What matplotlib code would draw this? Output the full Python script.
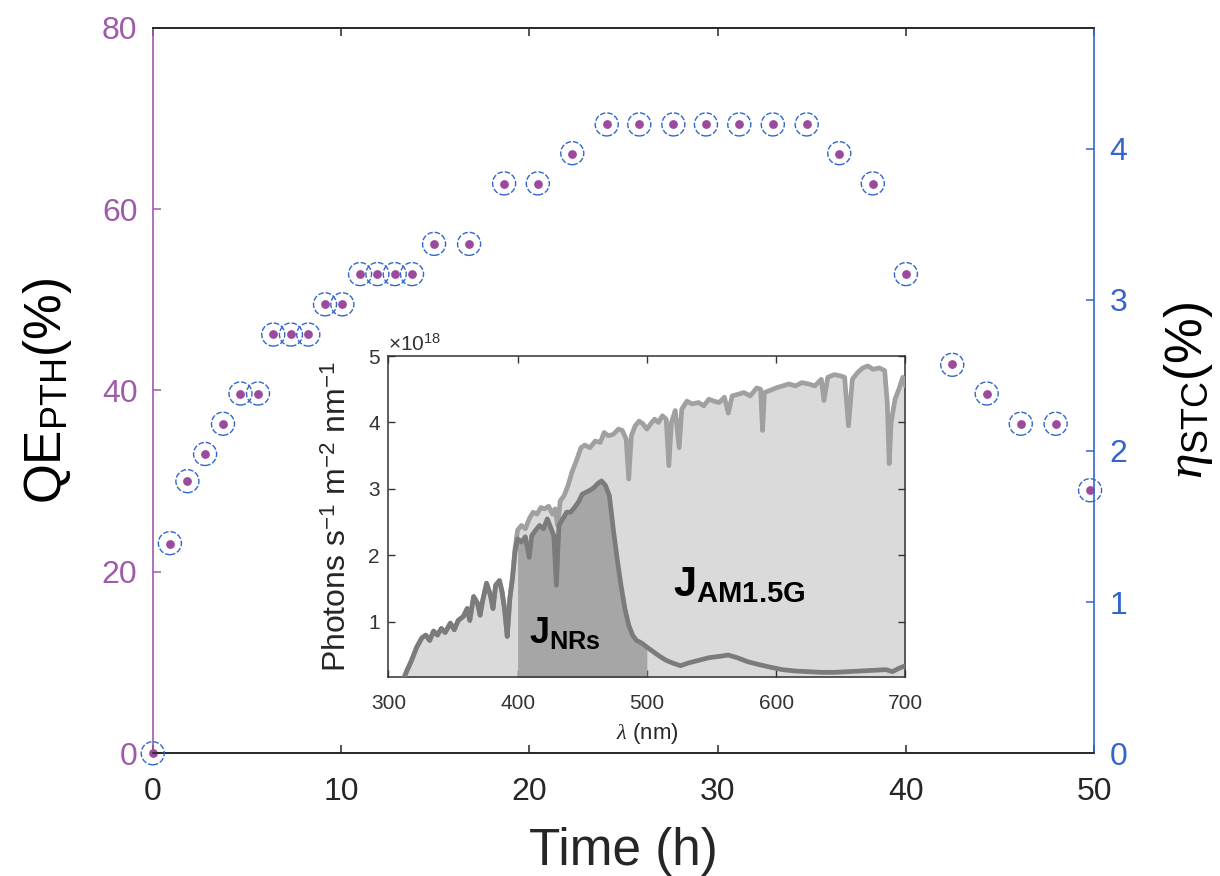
import matplotlib
matplotlib.use("Agg")
import matplotlib.pyplot as plt
import numpy as np

plt.rcParams['font.family'] = ['Liberation Sans', 'DejaVu Sans']
plt.rcParams['mathtext.fontset'] = 'custom'
plt.rcParams['mathtext.rm'] = 'Liberation Sans'
plt.rcParams['mathtext.it'] = 'Liberation Serif:italic'
plt.rcParams['mathtext.bf'] = 'Liberation Sans:bold'

# main data: time (h), QE_PTH (%) and eta_STC (%)
time_h = [0, 0.91, 1.84, 2.78, 3.73, 4.66, 5.59, 6.40, 7.34, 8.26, 9.15, 10.07,
          11.01, 11.93, 12.85, 13.77, 14.94, 16.80, 18.66, 20.45, 22.28, 24.11,
          25.84, 27.65, 29.38, 31.15, 32.93, 34.73, 36.46, 38.24, 40.0, 42.46,
          44.29, 46.1, 47.95, 49.78]
qe_pth = [0, 23.1, 30.0, 33.0, 36.3, 39.6, 39.6, 46.2, 46.2, 46.2, 49.5, 49.5,
          52.8, 52.8, 52.8, 52.8, 56.1, 56.1, 62.8, 62.8, 66.1, 69.4,
          69.4, 69.4, 69.4, 69.4, 69.4, 69.4, 66.1, 62.8, 52.8, 42.9,
          39.6, 36.3, 36.3, 29.0]
eta_stc = [0, 1.39, 1.80, 1.98, 2.18, 2.38, 2.38, 2.77, 2.77, 2.77, 2.97, 2.97,
           3.17, 3.17, 3.17, 3.17, 3.37, 3.37, 3.77, 3.77, 3.97, 4.16,
           4.16, 4.16, 4.16, 4.16, 4.16, 4.16, 3.97, 3.77, 3.17, 2.57,
           2.38, 2.18, 2.18, 1.74]

# inset: AM1.5G photon flux (x1e18 photons s-1 m-2 nm-1)
wl_am = [310, 314, 318, 322, 326, 329, 332, 335, 338, 341, 344, 348, 351, 354,
         358, 361, 363, 366, 369, 371, 373, 376, 379, 381, 383, 386, 388, 390,
         392, 394, 396, 398, 400, 403, 406, 409, 412, 415, 418, 421, 424, 427,
         429, 431, 433, 436, 439, 442, 446, 449, 452, 456, 460, 464, 467, 470,
         474, 478, 481, 484, 486, 488, 491, 494, 497, 500, 503, 506, 509, 512,
         515, 517, 519, 522, 525, 527, 531, 535, 540, 544, 548, 552, 556, 560,
         563, 566, 570, 575, 580, 585, 588, 589.5, 591, 595, 600, 605, 610, 615,
         620, 625, 630, 635, 637, 640, 645, 650, 653, 656, 659, 663, 667, 671,
         675, 680, 684, 686, 687.5, 689, 692, 695, 698, 700]
flux_am = [0.05, 0.25, 0.42, 0.62, 0.76, 0.80, 0.72, 0.86, 0.80, 0.90, 0.84, 0.98,
           0.88, 1.02, 1.08, 1.20, 1.02, 1.38, 1.28, 1.10, 1.32, 1.58, 1.40, 1.20,
           1.55, 1.62, 1.45, 1.18, 0.78, 1.35, 1.65, 2.10, 2.38, 2.45, 2.40, 2.55,
           2.65, 2.62, 2.72, 2.70, 2.74, 2.62, 2.70, 2.45, 2.82, 2.90, 3.05, 3.25,
           3.45, 3.62, 3.66, 3.62, 3.72, 3.70, 3.85, 3.80, 3.82, 3.90, 3.88, 3.75,
           3.15, 3.80, 3.95, 4.02, 3.98, 3.90, 3.98, 4.05, 4.00, 4.10, 4.05, 3.35,
           4.00, 4.18, 3.62, 4.20, 4.32, 4.28, 4.30, 4.25, 4.35, 4.32, 4.30, 4.38,
           4.14, 4.40, 4.42, 4.45, 4.40, 4.52, 4.50, 3.88, 4.45, 4.48, 4.52, 4.55,
           4.58, 4.55, 4.60, 4.58, 4.55, 4.65, 4.33, 4.68, 4.72, 4.70, 4.68, 3.95,
           4.65, 4.75, 4.82, 4.85, 4.80, 4.82, 4.78, 4.30, 3.38, 4.00, 4.35, 4.50,
           4.68, 4.56]

# inset: photon flux absorbed by the NRs (x1e18)
wl_nr = [310, 314, 318, 322, 326, 329, 332, 335, 338, 341, 344, 348, 351, 354,
         358, 361, 363, 366, 369, 371, 373, 376, 379, 381, 383, 386, 388, 390,
         392, 394, 396, 398, 400, 403, 406, 409, 411, 414, 417, 420, 423, 426,
         428, 430, 432, 435, 438, 441, 444, 447, 450, 453, 456, 459, 462, 465,
         468, 471, 474, 477, 480, 483, 486, 489, 492, 496, 500, 505, 510, 515,
         520, 526, 532, 540, 548, 556, 563, 570, 578, 586, 595, 605, 615, 625,
         635, 645, 655, 665, 675, 685, 690, 695, 700]
flux_nr = [0.05, 0.25, 0.42, 0.62, 0.76, 0.80, 0.72, 0.86, 0.80, 0.90, 0.84, 0.98,
           0.88, 1.02, 1.08, 1.20, 1.02, 1.38, 1.28, 1.10, 1.32, 1.58, 1.40, 1.20,
           1.55, 1.62, 1.45, 1.18, 0.78, 1.35, 1.65, 2.05, 2.25, 2.20, 2.28, 1.97,
           2.30, 2.38, 2.45, 2.40, 2.55, 2.40, 2.30, 1.55, 2.45, 2.55, 2.65, 2.65,
           2.72, 2.80, 2.92, 2.95, 2.98, 3.02, 3.08, 3.12, 3.05, 2.90, 2.40, 1.95,
           1.55, 1.20, 0.95, 0.80, 0.72, 0.68, 0.62, 0.55, 0.48, 0.42, 0.38, 0.34,
           0.38, 0.42, 0.46, 0.48, 0.50, 0.46, 0.40, 0.36, 0.32, 0.28, 0.26, 0.25,
           0.24, 0.24, 0.25, 0.26, 0.27, 0.28, 0.25, 0.30, 0.34]

purple = '#a05aab'
dot_purple = '#9c4a9c'
blue = '#3366cc'
dark = '#262626'

fig = plt.figure(figsize=(12.2, 8.76), dpi=100)
ax = fig.add_axes([0.1252, 0.1401, 0.7717, 0.8283])
ax2 = ax.twinx()

ax.scatter(time_h, qe_pth, s=28, color=dot_purple, zorder=3, clip_on=False)
ax2.scatter(time_h, eta_stc, s=275, facecolors='none', edgecolors=blue,
            linewidths=1.0, linestyles=(0, (4, 1.4)), zorder=4, clip_on=False)

ax.set_xlim(0, 50)
ax.set_ylim(0, 80)
ax2.set_ylim(0, 4.8)
ax.set_xticks([0, 10, 20, 30, 40, 50])
ax.set_yticks([0, 20, 40, 60, 80])
ax2.set_yticks([0, 1, 2, 3, 4])

ax.spines['right'].set_visible(False)
ax2.spines['left'].set_visible(False)
ax.spines['left'].set_color(purple)
ax2.spines['right'].set_color(blue)
for a in (ax, ax2):
    for s in ('top', 'bottom'):
        a.spines[s].set_color(dark)
    for s in a.spines.values():
        s.set_linewidth(1.2)

ax.tick_params(axis='x', direction='in', top=True, length=6, width=1.1,
               colors=dark, labelsize=23, pad=17)
ax.tick_params(axis='y', direction='in', length=6, width=1.1,
               colors=purple, labelsize=23, pad=11)
ax2.tick_params(axis='y', direction='in', length=6, width=1.1,
                colors=blue, labelsize=23, pad=11)

ax.text(0.5, -0.135, 'Time (h)', transform=ax.transAxes, fontsize=37,
        color=dark, ha='center', va='center')
ax.text(-0.112, 0.5, r'QE$_{\rm PTH}$(%)', transform=ax.transAxes, fontsize=37,
        color='black', rotation=90, ha='center', va='center')
ax.text(1.1, 0.5, r'$\eta_{\rm STC}$(%)', transform=ax.transAxes, fontsize=37,
        color='black', rotation=90, ha='center', va='center')

# inset with the solar spectrum
ins = fig.add_axes([0.3183, 0.2268, 0.4238, 0.3668])
wl_am = np.array(wl_am)
flux_am = np.array(flux_am)
wl_nr = np.array(wl_nr)
flux_nr = np.array(flux_nr)
ins.fill_between(wl_am, 0, flux_am, color='#dadada', lw=0, zorder=1)
band = (wl_nr >= 400) & (wl_nr <= 500)
ins.fill_between(wl_nr[band], 0, flux_nr[band], color='#a6a6a6', lw=0, zorder=2)
ins.plot(wl_am, flux_am, color='#a0a0a0', lw=3.4, zorder=3)
ins.plot(wl_nr, flux_nr, color='#7b7b7b', lw=3.4, zorder=4)

ins.set_xlim(300, 700)
ins.set_ylim(0.165, 5)
ins.set_xticks([300, 400, 500, 600, 700])
ins.set_yticks([1, 2, 3, 4, 5])
ins.tick_params(direction='in', top=True, right=True, length=5, width=1,
                colors='#333333', labelsize=15)
ins.tick_params(axis='x', pad=12)
ins.tick_params(axis='y', pad=6)
for s in ins.spines.values():
    s.set_color('#333333')
    s.set_linewidth(1.1)

ins.text(0.0, 1.005, r'$\times$10$^{18}$', transform=ins.transAxes, fontsize=15,
         color='#333333', ha='left', va='bottom')
ins.text(-0.097, 0.5, r'Photons s$^{-1}$ m$^{-2}$ nm$^{-1}$', transform=ins.transAxes,
         fontsize=23, color='#262626', rotation=90, ha='center', va='center')
ins.text(0.5, -0.175, r'$\lambda$ (nm)', transform=ins.transAxes, fontsize=16,
         color='#262626', ha='center', va='center')
ins.text(409, 0.68, r'$\mathbf{J_{NRs}}$', fontsize=26, color='black',
         ha='left', va='baseline', zorder=5)
ins.text(520, 1.38, r'$\mathbf{J_{AM1.5G}}$', fontsize=30, color='black',
         ha='left', va='baseline', zorder=5)

fig.savefig('out.png', dpi=100)
